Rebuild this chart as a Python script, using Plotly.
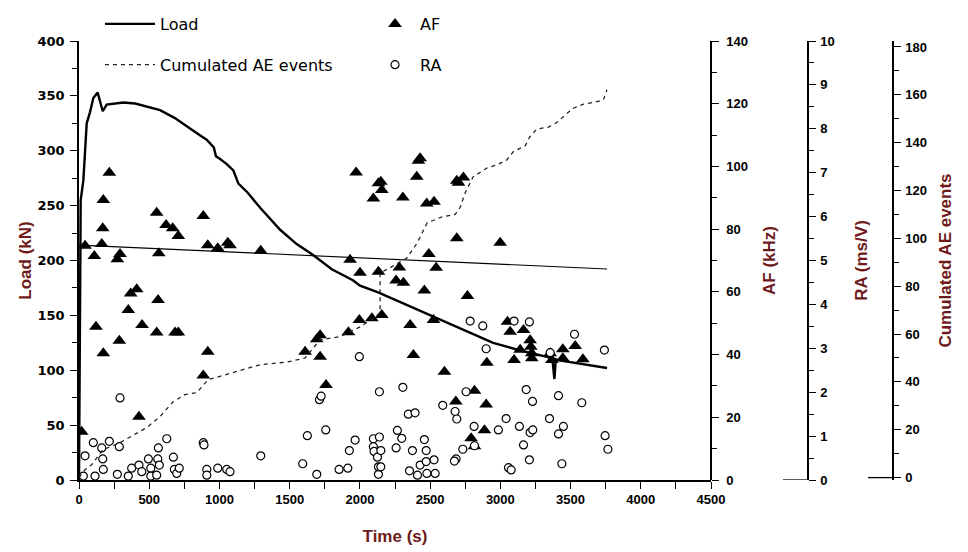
import plotly.graph_objects as go

# ---------------- data ----------------
load_t = [0, 5, 12, 31, 55, 78, 102, 133, 150, 169, 197, 250, 315, 400, 500, 577, 680, 767,
          850, 909, 960, 975, 1000, 1050, 1099, 1120, 1135, 1200, 1290, 1432, 1550, 1667,
          1800, 1950, 2001, 2130, 2358, 2500, 2714, 2949, 3141, 3370, 3385, 3395, 3420, 3568, 3760]
load_kN = [0, 150, 255, 273, 325, 335, 348, 353, 345, 336, 342, 343, 344, 343, 340, 337, 330, 322,
           315, 310, 303, 295, 293, 288, 282, 275, 270, 262, 248, 228, 215, 205,
           192, 182, 177, 171, 158, 150, 138, 125, 118, 111, 92, 110, 109, 106, 102]

trend_t = [0, 3760]
trend_af = [74.9, 67.3]

cum_t = [0, 43, 90, 171, 292, 482, 577, 670, 755, 838, 919, 1026, 1097, 1147, 1289, 1481, 1610,
         1716, 1859, 2001, 2108, 2144, 2144, 2215, 2336, 2407, 2479, 2585, 2678, 2714, 2749, 2806,
         2904, 2975, 3046, 3093, 3177, 3212, 3260, 3343, 3402, 3462, 3521, 3592, 3663, 3734, 3759]
cum_events = [0, 3.3, 5.4, 11.7, 14.6, 20.9, 25.5, 31.7, 34.7, 35.5, 40.9, 42.7, 43.9, 45, 47.2, 48.3, 50,
              57.6, 58.9, 63, 67, 69, 85.6, 87.7, 91.9, 98, 106.5, 109, 110, 113, 119, 125.7,
              129.4, 130.7, 132.8, 136.3, 138.7, 142.6, 145.7, 146.5, 148.4, 151.6, 154.4, 156.1, 156.8, 157.9, 162.1]

af_t = [19, 43, 109, 162, 169, 173, 216, 292, 273, 553, 620, 667, 707, 568, 885, 917, 988, 1059, 1075, 1294,
        411, 368, 351, 563, 121, 449, 553, 684, 707, 287, 173, 917, 885, 427, 1973, 2132, 2096, 1930, 2001, 2132,
        1996, 2085, 1918, 1717, 1693, 1610, 1717, 1759, 2429, 2417, 2405, 2149, 2156, 2306, 2476, 2528, 2690, 2737,
        2702, 2690, 2999, 2491, 2281, 2543, 2258, 2310, 2459, 2766, 2156, 2358, 2524, 2381, 2602, 2904, 3051, 3070,
        3165, 3212, 3217, 3141, 3224, 3224, 3098, 3355, 3445, 3533, 3367, 3445, 3588, 2816, 2683, 2899, 2887, 2792, 2816]
af_khz = [15.4, 74.7, 71.4, 75.3, 80.3, 89.3, 98.0, 72.1, 70.4, 85.2, 81.3, 80.3, 77.8, 72.3, 84.2, 74.9, 73.9, 75.7, 74.9, 73.1,
          60.8, 59.5, 54.2, 57.4, 48.9, 49.4, 47.0, 47.0, 47.0, 44.4, 40.4, 40.9, 33.3, 20.2, 98.1, 94.6, 89.8, 70.2, 66.1, 66.4,
          51.0, 51.6, 47.1, 46.2, 44.9, 40.9, 39.3, 30.3, 102.6, 101.8, 96.7, 95.1, 92.5, 90.1, 88.2, 88.7, 95.4, 96.5,
          94.8, 77.1, 75.7, 72.1, 67.8, 67.7, 63.6, 62.9, 60.4, 58.7, 52.6, 49.4, 51.0, 39.9, 34.5, 37.4, 50.5, 47.3,
          47.8, 44.6, 42.5, 41.5, 40.4, 38.8, 38.3, 40.4, 41.7, 42.7, 38.3, 38.8, 38.5, 28.5, 25.0, 24.1, 15.9, 13.3, 10.8]

ra_t = [292, 43, 102, 162, 216, 169, 173, 31, 114, 287, 273, 351, 375, 427, 447, 494, 511, 511, 553, 565,
        561, 572, 625, 672, 679, 696, 714, 885, 890, 910, 910, 988, 1052, 1075, 1294, 1593, 1693, 1626, 1712, 1724,
        1757, 1852, 1914, 1925, 1966, 2096, 2096, 2101, 2125, 2139, 2132, 2132, 2139, 1996, 2306, 2345, 2393,
        2149, 2149, 2267, 2298, 2258, 2374, 2459, 2472, 2353, 2410, 2429, 2472, 2477, 2528, 2536, 2590, 2678, 2690,
        2756, 2813, 2816, 2733, 2685, 2673, 2986, 3041, 3136, 3212, 3231, 3165, 3058, 3077, 3207, 3184, 3229, 3350,
        3414, 3414, 3449, 3438, 3580, 3746, 3766, 2785, 2875, 3098, 3207, 2899, 3355, 3528, 3741]
ra_msv = [1.87, 0.55, 0.85, 0.73, 0.88, 0.48, 0.24, 0.09, 0.09, 0.76, 0.13, 0.09, 0.27, 0.34, 0.19, 0.48, 0.27, 0.09, 0.11, 0.73,
          0.48, 0.34, 0.94, 0.52, 0.24, 0.15, 0.27, 0.85, 0.80, 0.24, 0.11, 0.27, 0.24, 0.19, 0.55, 0.37, 0.13, 1.01, 1.83, 1.91,
          1.14, 0.24, 0.27, 0.67, 0.91, 0.94, 0.76, 0.65, 0.52, 0.98, 0.13, 0.30, 2.01, 2.81, 2.11, 1.50, 1.53,
          0.67, 0.30, 1.13, 0.95, 0.73, 0.67, 0.92, 0.67, 0.21, 0.11, 0.34, 0.42, 0.15, 0.46, 0.15, 1.70, 1.56, 1.39,
          2.01, 1.22, 0.78, 0.70, 0.48, 0.43, 1.14, 1.40, 1.22, 1.08, 1.14, 0.80, 0.28, 0.23, 0.46, 2.06, 1.79, 1.40,
          1.92, 1.05, 1.22, 0.37, 1.76, 1.01, 0.70, 3.62, 3.51, 3.62, 3.60, 2.99, 2.90, 3.32, 2.96]

x_ticks = [0, 500, 1000, 1500, 2000, 2500, 3000, 3500, 4000, 4500]

# ---------------- styling ----------------
TITLE_COLOR = "#6e1a1a"
TICK_FONT = dict(family="Arial, Liberation Sans, sans-serif", size=13, color="black", weight="bold")
LEFT_TICK_FONT = dict(family="DejaVu Sans, Verdana, sans-serif", size=13, color="black", weight="bold")
TITLE_FONT = dict(family="Arial, Liberation Sans, sans-serif", size=17, color=TITLE_COLOR, weight="bold")
LEG_FONT = dict(family="DejaVu Sans, Arial, sans-serif", size=16, color="black")

# figure is drawn at an 8px page offset, so layout is computed in figure pixels
W, H = 960, 544
L, R, T, B = 71, 75, 33, 72
PW = W - L - R  # 814

fig = go.Figure()

fig.add_trace(go.Scatter(x=load_t, y=load_kN, mode="lines", name="Load",
                         line=dict(color="black", width=2.4), yaxis="y",
                         legend="legend", legendgroup="a"))
fig.add_trace(go.Scatter(x=cum_t, y=cum_events, mode="lines", name="Cumulated AE events",
                         line=dict(color="#222222", width=1.3, dash="4px,4px"), yaxis="y4",
                         legend="legend", legendgroup="b"))
fig.add_trace(go.Scatter(x=trend_t, y=trend_af, mode="lines", showlegend=False,
                         line=dict(color="black", width=1.1), yaxis="y2"))
fig.add_trace(go.Scatter(x=af_t, y=af_khz, mode="markers", name="AF",
                         marker=dict(symbol="triangle-up", size=12, color="black"),
                         yaxis="y2", legend="legend2", legendgroup="c"))
fig.add_trace(go.Scatter(x=ra_t, y=ra_msv, mode="markers", name="RA",
                         marker=dict(symbol="circle", size=8, color="white",
                                     line=dict(color="black", width=1.2)),
                         yaxis="y3", legend="legend2", legendgroup="d"))

xdom_end = 632 / PW
ra_pos = 729 / PW

common_y = dict(showgrid=False, zeroline=False, showline=True, linecolor="black", linewidth=1.5,
                ticks="outside", ticklen=7, tickwidth=1.3, tickcolor="black",
                automargin=False)

fig.update_layout(
    width=W, height=H,
    margin=dict(l=L, r=R, t=T, b=B, autoexpand=False),
    paper_bgcolor="white", plot_bgcolor="white",
    xaxis=dict(domain=[0, xdom_end], range=[0, 4500], tickvals=x_ticks, automargin=False,
               showgrid=False, zeroline=False, showline=True, linecolor="black", linewidth=1.5,
               ticks="outside", ticklen=7, tickwidth=1.3, tickcolor="black",
               minor=dict(dtick=250, ticks="outside", ticklen=7, tickwidth=1.3, tickcolor="black"),
               tickfont=dict(family="Liberation Sans Narrow, Arial Narrow, Arial, sans-serif",
                             size=13, color="black", weight="bold"),
               title=dict(text="Time (s)", font=TITLE_FONT, standoff=24)),
    yaxis=dict(range=[0, 400], dtick=50, anchor="x", tickfont=LEFT_TICK_FONT, ticklabelstandoff=3,
               minor=dict(dtick=25, ticks="outside", ticklen=5, tickwidth=1.2, tickcolor="black"),
               title=dict(text="Load (kN)", font=TITLE_FONT, standoff=2), **common_y),
    yaxis2=dict(range=[0, 140], dtick=20, overlaying="y", side="right", anchor="free",
                position=xdom_end, tickfont=TICK_FONT, ticklabelstandoff=5,
                minor=dict(dtick=10, ticks="outside", ticklen=5, tickwidth=1.2, tickcolor="black"),
                title=dict(text="AF (kHz)", font=TITLE_FONT, standoff=15), **common_y),
    yaxis3=dict(range=[0, 10], dtick=1, overlaying="y", side="right", anchor="free",
                position=ra_pos, tickfont=TICK_FONT, ticklabelstandoff=2,
                minor=dict(dtick=0.5, ticks="outside", ticklen=5, tickwidth=1.2, tickcolor="black"),
                title=dict(text="RA (ms/V)", font=TITLE_FONT, standoff=20), **common_y),
    yaxis4=dict(range=[-1, 182.5], tickvals=[0, 20, 40, 60, 80, 100, 120, 140, 160, 180],
                overlaying="y", side="right", anchor="free", position=1.0,
                tickfont=TICK_FONT, ticklabelstandoff=2,
                minor=dict(dtick=10, ticks="outside", ticklen=5, tickwidth=1.2, tickcolor="black"),
                title=dict(text="Cumulated AE events", font=TITLE_FONT, standoff=12), **common_y),
    legend=dict(x=21 / PW, y=(439 + 34) / 439, xanchor="left", yanchor="top",
                orientation="v", font=LEG_FONT, itemwidth=50, tracegroupgap=17,
                bgcolor="rgba(0,0,0,0)", borderwidth=0),
    legend2=dict(x=291 / PW, y=(439 + 34) / 439, xanchor="left", yanchor="top",
                 orientation="v", font=LEG_FONT, itemwidth=40, tracegroupgap=17,
                 bgcolor="rgba(0,0,0,0)", borderwidth=0),
    shapes=[
        dict(type="line", xref="paper", yref="y3", x0=ra_pos - 25 / PW, x1=ra_pos, y0=0, y1=0,
             line=dict(color="black", width=1.3)),
        dict(type="line", xref="paper", yref="y4", x0=1.0 - 25 / PW, x1=1.0, y0=0, y1=0,
             line=dict(color="black", width=1.3)),
    ],
)

fig.write_html("out.html")
